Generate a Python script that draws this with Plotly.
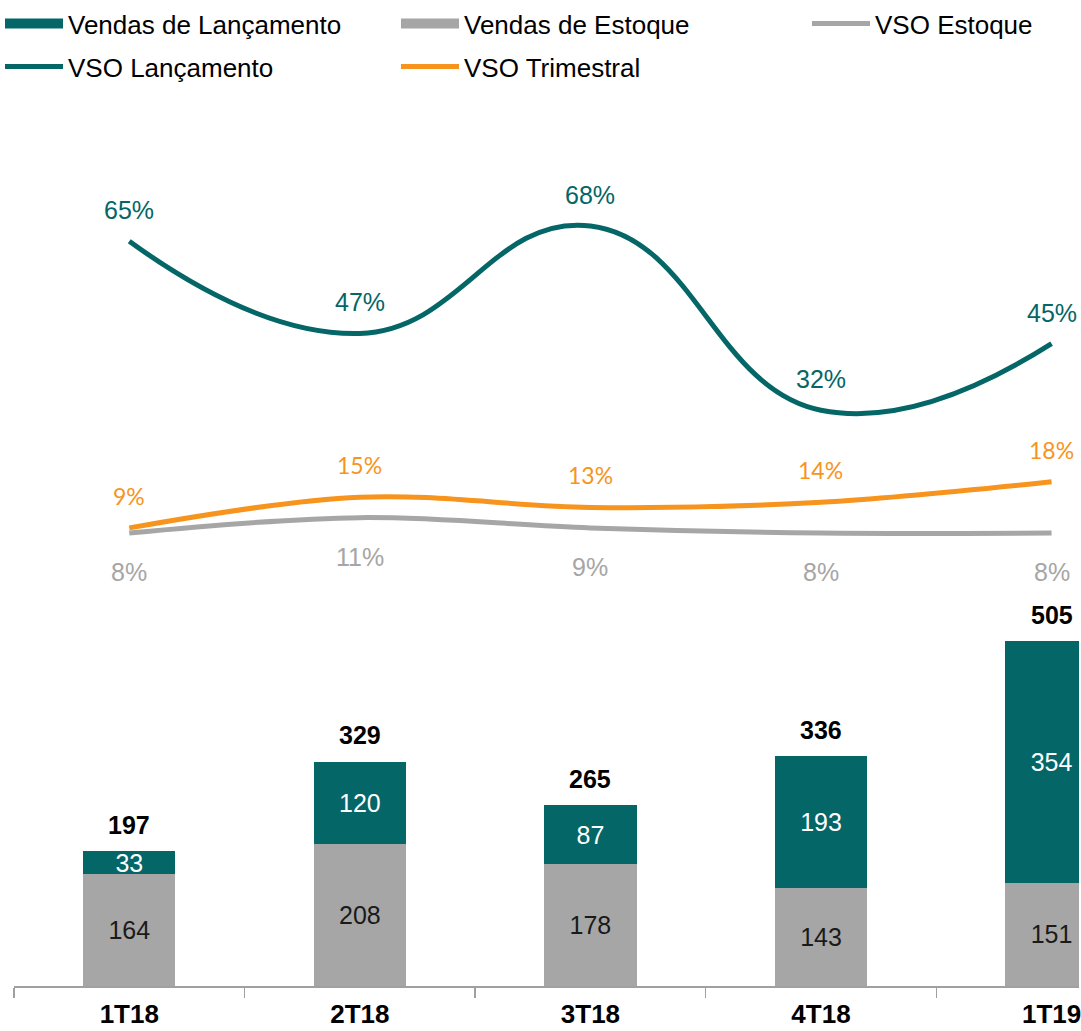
import plotly.graph_objects as go

categorias = ["1T18", "2T18", "3T18", "4T18", "1T19"]
vendas_estoque = [164, 208, 178, 143, 151]
vendas_lancamento = [33, 120, 87, 193, 354]
vendas_total = [197, 329, 265, 336, 505]
vso_lancamento = [0.65, 0.47, 0.68, 0.32, 0.45]
vso_trimestral = [0.09, 0.15, 0.13, 0.14, 0.18]
vso_estoque = [0.08, 0.11, 0.09, 0.08, 0.08]

TEAL = "#046667"
GREY = "#A6A6A6"
ORANGE = "#F7941D"
ARIAL = "Liberation Sans, Arial, sans-serif"
NARROW = "Lato, sans-serif"

fig = go.Figure()

fig.add_trace(go.Bar(
    x=categorias, y=vendas_estoque, name="Vendas de Estoque",
    marker=dict(color=GREY, line=dict(width=0)), width=0.4,
    text=[str(v) for v in vendas_estoque], textposition="inside", textangle=0,
    insidetextanchor="middle", textfont=dict(family=ARIAL, size=25, color="#1a1a1a"),
    showlegend=False, hoverinfo="skip", yaxis="y"))
fig.add_trace(go.Bar(
    x=categorias, y=vendas_lancamento, name="Vendas de Lançamento",
    marker=dict(color=TEAL, line=dict(width=0)), width=0.4,
    text=[str(v) for v in vendas_lancamento], textposition="inside", textangle=0,
    insidetextanchor="middle", textfont=dict(family=ARIAL, size=25, color="white"),
    showlegend=False, hoverinfo="skip", yaxis="y"))

fig.add_trace(go.Scatter(
    x=categorias, y=vso_estoque, name="VSO Estoque", mode="lines",
    line=dict(color=GREY, width=5, shape="spline", smoothing=1.0),
    yaxis="y2", showlegend=False, hoverinfo="skip"))
fig.add_trace(go.Scatter(
    x=categorias, y=vso_trimestral, name="VSO Trimestral", mode="lines",
    line=dict(color=ORANGE, width=5, shape="spline", smoothing=1.0),
    yaxis="y2", showlegend=False, hoverinfo="skip"))
fig.add_trace(go.Scatter(
    x=categorias, y=vso_lancamento, name="VSO Lançamento", mode="lines",
    line=dict(color=TEAL, width=5, shape="spline", smoothing=1.3),
    yaxis="y2", showlegend=False, hoverinfo="skip"))

# legend-only entries
legend_items = [
    ("Vendas de Lançamento", TEAL, 12, "legend"),
    ("Vendas de Estoque", GREY, 12, "legend"),
    ("VSO Estoque", GREY, 5, "legend3"),
    ("VSO Lançamento", TEAL, 5, "legend2"),
    ("VSO Trimestral", ORANGE, 5, "legend2"),
]
for nm, col, w, lg in legend_items:
    fig.add_trace(go.Scatter(x=[None], y=[None], mode="lines", name=nm,
                             line=dict(color=col, width=w), legend=lg,
                             showlegend=True, hoverinfo="skip"))

ann = []
for c, t in zip(categorias, vendas_total):
    ann.append(dict(x=c, y=t, xref="x", yref="y", text=f"<b>{t}</b>", showarrow=False,
                    yanchor="middle", yshift=26,
                    font=dict(family=ARIAL, size=25, color="black")))
for c, v in zip(categorias, vso_lancamento):
    ann.append(dict(x=c, y=v, xref="x", yref="y2", text=f"{round(v*100)}%", showarrow=False,
                    yanchor="middle", yshift=31,
                    font=dict(family=ARIAL, size=25, color=TEAL)))
for c, v in zip(categorias, vso_trimestral):
    ann.append(dict(x=c, y=v, xref="x", yref="y2", text=f"{round(v*100)}%", showarrow=False,
                    yanchor="middle", yshift=32,
                    font=dict(family=NARROW, size=23, color=ORANGE)))
for c, v in zip(categorias, vso_estoque):
    ann.append(dict(x=c, y=v, xref="x", yref="y2", text=f"{round(v*100)}%", showarrow=False,
                    yanchor="middle", yshift=-39,
                    font=dict(family=ARIAL, size=25, color=GREY)))

leg_common = dict(orientation="h", xref="container", yref="container",
                  xanchor="left", yanchor="top", entrywidth=323, entrywidthmode="pixels",
                  itemwidth=58, font=dict(family=ARIAL, size=26, color="black"),
                  traceorder="normal", bgcolor="rgba(0,0,0,0)")

fig.update_layout(
    width=1081, height=1031, autosize=False,
    margin=dict(l=14, r=0, t=100, b=45),
    paper_bgcolor="white", plot_bgcolor="white",
    barmode="stack",
    uniformtext=dict(minsize=25, mode="show"),
    font=dict(family=ARIAL, size=25, color="black"),
    xaxis=dict(type="category", range=[-0.5, 4.119], showgrid=False,
               showline=True, linecolor="#A0A0A0", linewidth=1.5,
               ticks="outside", tickson="boundaries", ticklen=10, tickcolor="#A0A0A0",
               tickwidth=1.5, ticklabelstandoff=4,
               tickfont=dict(family=ARIAL, size=26, color="black", weight="bold"),
               fixedrange=True),
    yaxis=dict(range=[0, 1297], visible=False, showgrid=False, fixedrange=True),
    yaxis2=dict(range=[-0.805, 0.926], overlaying="y", visible=False,
                showgrid=False, fixedrange=True),
    legend=dict(x=0, y=1, **leg_common),
    legend2=dict(x=0, y=1 - 43 / 1031, **leg_common),
    legend3=dict(x=807 / 1081, y=1, **leg_common),
    annotations=ann,
    showlegend=True,
)

fig.write_html("out.html", config={"displayModeBar": False, "staticPlot": True},
               post_script="document.body.style.margin='0';")
